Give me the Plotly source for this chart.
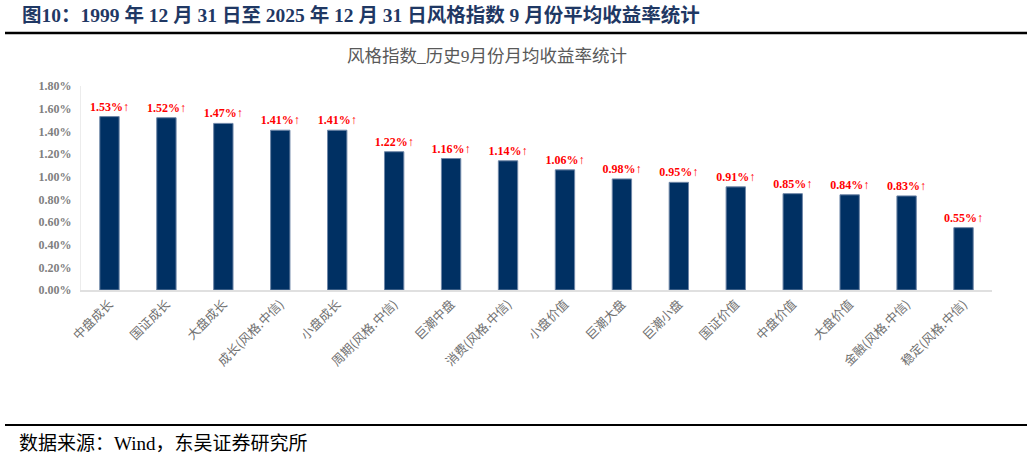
import plotly.graph_objects as go

categories = ["中盘成长", "国证成长", "大盘成长", "成长(风格.中信)", "小盘成长",
              "周期(风格.中信)", "巨潮中盘", "消费(风格.中信)", "小盘价值", "巨潮大盘",
              "巨潮小盘", "国证价值", "中盘价值", "大盘价值", "金融(风格.中信)", "稳定(风格.中信)"]
avg_return = [1.53, 1.52, 1.47, 1.41, 1.41, 1.22, 1.16, 1.14, 1.06, 0.98,
              0.95, 0.91, 0.85, 0.84, 0.83, 0.55]
y_ticks = [0.0, 0.2, 0.4, 0.6, 0.8, 1.0, 1.2, 1.4, 1.6, 1.8]

W, H = 1032, 461
L, R, T, B = 81, 40, 86, 171
pw, ph = W - L - R, H - T - B


def px(x):
    return (x - L) / pw


def py(y):
    return (H - B - y) / ph


serif = "Liberation Serif, Noto Sans CJK SC, serif"

fig = go.Figure()
fig.add_trace(go.Bar(
    x=categories,
    y=avg_return,
    marker=dict(color="#003063", line=dict(color="#6f87a8", width=1)),
    text=[f"{v:.2f}%↑" for v in avg_return],
    textposition="outside",
    constraintext="none",
    textfont=dict(family=serif, size=12, color="#ff0000", weight="bold"),
    cliponaxis=False,
))

fig.update_layout(
    width=W, height=H,
    margin=dict(l=L, r=R, t=T, b=B),
    plot_bgcolor="white", paper_bgcolor="white",
    showlegend=False,
    bargap=0.66,
    font=dict(family=serif),
    xaxis=dict(
        tickangle=-45,
        tickfont=dict(family="Noto Sans CJK SC", size=12.5, color="#707070"),
        showline=True, linecolor="#e0e0e0", linewidth=2,
        ticks="", showgrid=False, automargin=False,
    ),
    yaxis=dict(
        range=[0, 1.8],
        tickvals=y_ticks,
        ticktext=[f"{v:.2f}%" for v in y_ticks],
        tickfont=dict(family=serif, size=12, color="#7f7f7f", weight="bold"),
        ticklabelstandoff=6,
        showline=True, linecolor="#ececec", linewidth=1,
        showgrid=False, zeroline=False, ticks="", automargin=False,
    ),
)

annotations = [
    dict(text="图10：1999 年 12 月 31 日至 2025 年 12 月 31 日风格指数 9 月份平均收益率统计",
         x=px(20), y=py(15), xanchor="left", yanchor="middle",
         font=dict(family=serif, size=19.5, color="#1f3864", weight="bold")),
    dict(text="风格指数_历史9月份月均收益率统计",
         x=px(487), y=py(56), xanchor="center", yanchor="middle",
         font=dict(family=serif, size=17.5, color="#595959")),
    dict(text="数据来源：Wind，东吴证券研究所",
         x=px(17), y=py(443), xanchor="left", yanchor="middle",
         font=dict(family=serif, size=19, color="#000000")),
]
for a in annotations:
    a.update(xref="paper", yref="paper", showarrow=False)
fig.update_layout(annotations=annotations)

fig.add_shape(type="line", xref="paper", yref="paper",
              x0=px(5), x1=px(1027), y0=py(33), y1=py(33),
              line=dict(color="#000000", width=2.5))
fig.add_shape(type="line", xref="paper", yref="paper",
              x0=px(5), x1=px(1027), y0=py(425), y1=py(425),
              line=dict(color="#000000", width=2))

# page body has a default margin that pushes the figure off its place
fig.write_html("out.html", config={"displayModeBar": False},
               post_script="document.body.style.margin='0';")
